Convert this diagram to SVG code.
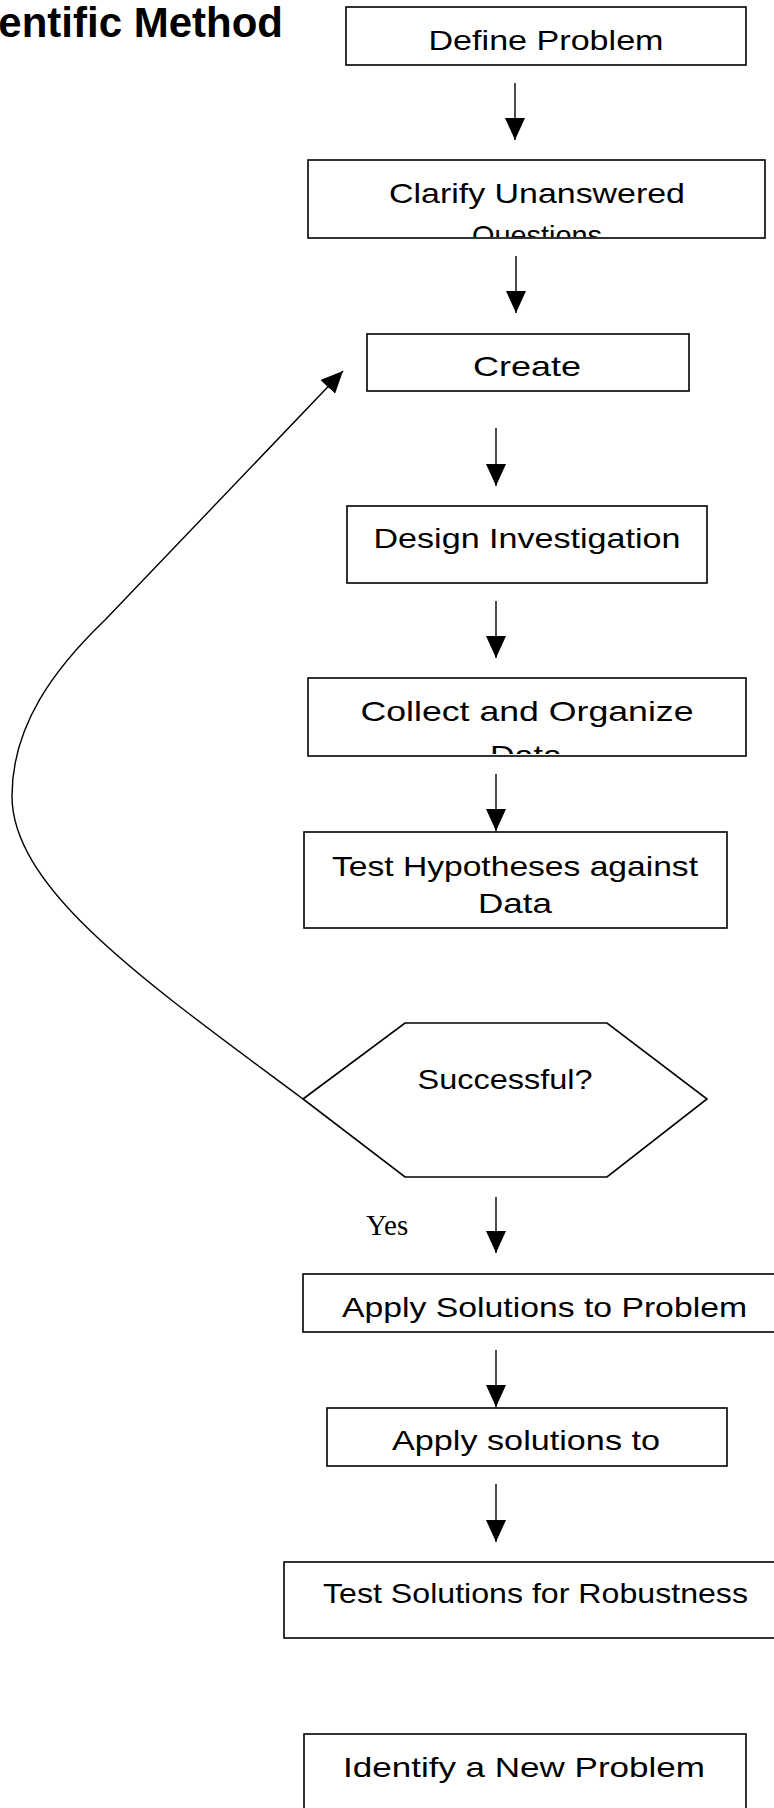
<svg xmlns="http://www.w3.org/2000/svg" width="774" height="1808" viewBox="0 0 774 1808">
<style>
.box{fill:#fff;stroke:#000;stroke-width:1.6}
.lbl{font-family:"Liberation Sans",Arial,sans-serif;font-size:28px;fill:#000;text-anchor:middle}
.yes{font-family:"Liberation Serif","Times New Roman",serif;font-size:29px;fill:#000}
.title{font-family:"Liberation Sans",Arial,sans-serif;font-size:42px;font-weight:bold;fill:#000;text-anchor:end}
.con{fill:none;stroke:#000;stroke-width:1.4}
</style>
<defs>
<marker id="ah" viewBox="0 0 22 20" refX="22" refY="10" markerWidth="22" markerHeight="20" markerUnits="userSpaceOnUse" orient="auto">
<path d="M0,0 L22,10 L0,20 z" fill="#000"/>
</marker>
<clipPath id="clipClarify"><rect x="309" y="161" width="455" height="76"/></clipPath>
<clipPath id="clipCollect"><rect x="309" y="679" width="436" height="75"/></clipPath>
</defs>
<rect width="774" height="1808" fill="#fff"/>
<g id="title"><text class="title" x="283" y="37">entific Method</text></g>
<g id="define"><rect class="box" x="346" y="7" width="400" height="58"/><text class="lbl" x="546" y="50" textLength="235" lengthAdjust="spacingAndGlyphs">Define Problem</text></g>
<g id="clarify"><rect class="box" x="308" y="160" width="457" height="78"/><g clip-path="url(#clipClarify)"><text class="lbl" x="537" y="203" textLength="296" lengthAdjust="spacingAndGlyphs">Clarify Unanswered</text><text class="lbl" x="537" y="245" textLength="130" lengthAdjust="spacingAndGlyphs">Questions</text></g></g>
<g id="create"><rect class="box" x="367" y="334" width="322" height="57"/><text class="lbl" x="527" y="376" textLength="108" lengthAdjust="spacingAndGlyphs">Create</text></g>
<g id="design"><rect class="box" x="347" y="506" width="360" height="77"/><text class="lbl" x="527" y="548" textLength="307" lengthAdjust="spacingAndGlyphs">Design Investigation</text></g>
<g id="collect"><rect class="box" x="308" y="678" width="438" height="78"/><g clip-path="url(#clipCollect)"><text class="lbl" x="527" y="721" textLength="333" lengthAdjust="spacingAndGlyphs">Collect and Organize</text><text class="lbl" x="526" y="765" textLength="72" lengthAdjust="spacingAndGlyphs">Data</text></g></g>
<g id="test"><rect class="box" x="304" y="832" width="423" height="96"/><text class="lbl" x="515" y="876" textLength="366" lengthAdjust="spacingAndGlyphs">Test Hypotheses against</text><text class="lbl" x="515" y="913" textLength="74" lengthAdjust="spacingAndGlyphs">Data</text></g>
<g id="successful"><polygon class="box" points="303,1099 405,1023 607,1023 707,1099 607,1177 405,1177"/><text class="lbl" x="505" y="1089" textLength="175" lengthAdjust="spacingAndGlyphs">Successful?</text></g>
<g id="yes-label"><text class="yes" x="366" y="1235">Yes</text></g>
<g id="apply1"><rect class="box" x="303" y="1274" width="480" height="58"/><text class="lbl" x="544.5" y="1317" textLength="405" lengthAdjust="spacingAndGlyphs">Apply Solutions to Problem</text></g>
<g id="apply2"><rect class="box" x="327" y="1408" width="400" height="58"/><text class="lbl" x="526" y="1450" textLength="268" lengthAdjust="spacingAndGlyphs">Apply solutions to</text></g>
<g id="robust"><rect class="box" x="284" y="1562" width="500" height="76"/><text class="lbl" x="535.5" y="1603" textLength="425" lengthAdjust="spacingAndGlyphs">Test Solutions for Robustness</text></g>
<g id="identify"><rect class="box" x="304" y="1734" width="442" height="90"/><text class="lbl" x="524" y="1777" textLength="362" lengthAdjust="spacingAndGlyphs">Identify a New Problem</text></g>
<g id="connectors">
<line class="con" x1="515" y1="83" x2="515" y2="140" marker-end="url(#ah)"/>
<line class="con" x1="516" y1="256" x2="516" y2="313" marker-end="url(#ah)"/>
<line class="con" x1="496" y1="428" x2="496" y2="486" marker-end="url(#ah)"/>
<line class="con" x1="496" y1="601" x2="496" y2="658" marker-end="url(#ah)"/>
<line class="con" x1="496" y1="774" x2="496" y2="831" marker-end="url(#ah)"/>
<line class="con" x1="496" y1="1197" x2="496" y2="1253" marker-end="url(#ah)"/>
<line class="con" x1="496" y1="1350" x2="496" y2="1407" marker-end="url(#ah)"/>
<line class="con" x1="496" y1="1484" x2="496" y2="1542" marker-end="url(#ah)"/>
<path class="con" d="M303,1099 C150,985 12,890 12,796 C12,725 55,668 105,620 L343,371" marker-end="url(#ah)"/>
</g>
</svg>
